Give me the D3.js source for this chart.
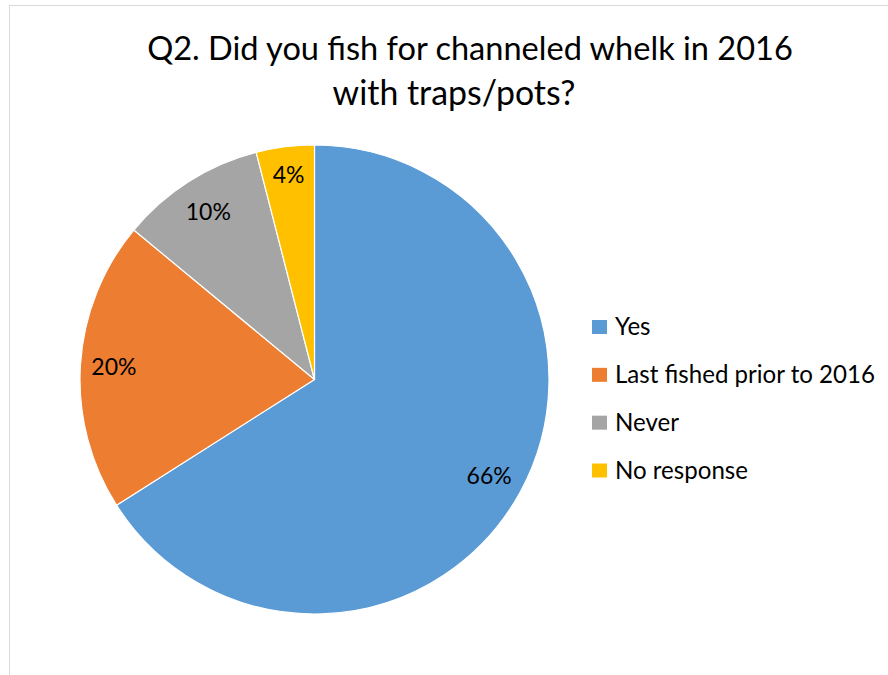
<!DOCTYPE html>
<html>
<head>
<meta charset="utf-8">
<script src="https://cdn.jsdelivr.net/npm/d3@7"></script>
<style>
  html, body { margin: 0; padding: 0; background: #fff; }
  svg { display: block; }
  text { font-family: Lato, "Open Sans", sans-serif; fill: #000; }
</style>
</head>
<body>
<svg id="chart" width="888" height="675"></svg>
<script>
// Survey responses to Q2 (percent of respondents)
const categories = ["Yes", "Last fished prior to 2016", "Never", "No response"];
const values = [66, 20, 10, 4];
const valueLabels = ["66%", "20%", "10%", "4%"];
const colors = ["#5B9BD5", "#ED7D31", "#A5A5A5", "#FFC000"];
const titleLines = ["Q2. Did you fish for channeled whelk in 2016", "with traps/pots?"];

const svg = d3.select("#chart");

// chart frame
svg.append("rect")
  .attr("x", 9.5).attr("y", 5.5)
  .attr("width", 890).attr("height", 700)
  .attr("fill", "#fff")
  .attr("stroke", "#d9d9d9")
  .attr("stroke-width", 1);

// title, sized so the first line spans its box
const title = svg.append("g");
const t1 = title.append("text")
  .attr("x", 470).attr("y", 60)
  .attr("text-anchor", "middle")
  .style("font-size", "31px")
  .text(titleLines[0]);
const w = t1.node().getComputedTextLength();
const fs = 31 * 646 / w;
t1.style("font-size", fs + "px");
title.append("text")
  .attr("x", 454).attr("y", 105)
  .attr("text-anchor", "middle")
  .style("font-size", (fs * 1.04) + "px")
  .text(titleLines[1]);

// pie
const cx = 314.5, cy = 379.5, r = 234.5;
const pie = d3.pie().sort(null).value(d => d.value);
const data = categories.map((c, i) => ({ name: c, value: values[i], label: valueLabels[i], color: colors[i] }));
const arcs = pie(data);
const arc = d3.arc().innerRadius(0).outerRadius(r);

const g = svg.append("g").attr("transform", `translate(${cx},${cy})`);
g.selectAll("path.slice")
  .data(arcs)
  .join("path")
  .attr("class", "slice")
  .attr("d", arc)
  .attr("fill", d => d.data.color)
  .attr("stroke", "#fff")
  .attr("stroke-width", 1.2)
  .attr("stroke-linejoin", "round");

// data labels placed along each slice's bisector
const labelRadius = [0.85, 0.857, 0.845, 0.88];
g.selectAll("text.val")
  .data(arcs)
  .join("text")
  .attr("class", "val")
  .attr("text-anchor", "middle")
  .style("font-size", "23px")
  .attr("transform", (d, i) => {
    const a = (d.startAngle + d.endAngle) / 2;
    const rr = r * labelRadius[i];
    return `translate(${Math.sin(a) * rr},${-Math.cos(a) * rr + 8})`;
  })
  .text(d => d.data.label);

// legend
const legendY = d3.scalePoint().domain(categories).range([327, 470.5]);
const legend = svg.append("g");
const items = legend.selectAll("g")
  .data(data)
  .join("g")
  .attr("transform", d => `translate(592,${legendY(d.name)})`);
items.append("rect")
  .attr("x", 0).attr("y", -7)
  .attr("width", 15).attr("height", 14)
  .attr("fill", d => d.color);
const legendText = items.append("text")
  .attr("x", 23).attr("y", 8)
  .style("font-size", "21px")
  .text(d => d.name);
// size legend text so the longest entry spans 260px
const maxW = d3.max(legendText.nodes(), n => n.getComputedTextLength());
legendText.style("font-size", (21 * 260 / maxW) + "px");
</script>
</body>
</html>
